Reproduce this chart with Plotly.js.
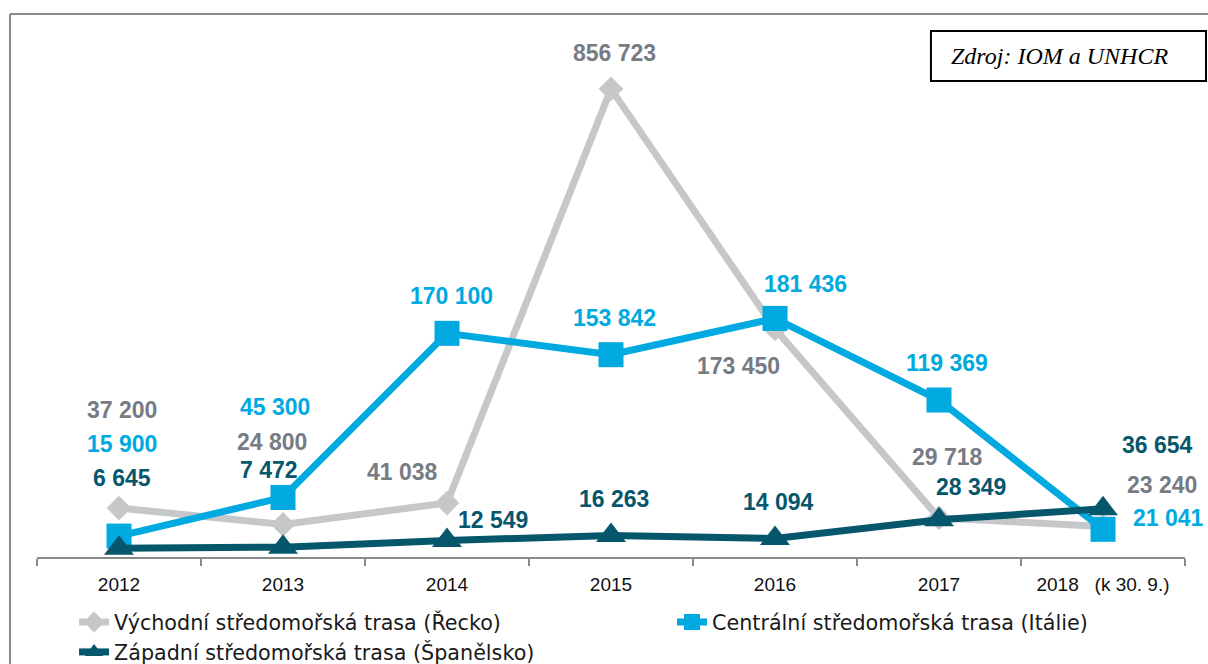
<!DOCTYPE html>
<html>
<head>
<meta charset="utf-8">
<script src="https://cdn.plot.ly/plotly-3.0.1.min.js"></script>
<style>
  html, body { margin: 0; padding: 0; background: #ffffff; }
  #chart { width: 1208px; height: 664px; }
</style>
</head>
<body>
<div id="chart"></div>
<script>
// ---- data ----
const roky = ['2012', '2013', '2014', '2015', '2016', '2017', '2018\u00a0\u00a0 (k 30. 9.)'];
const vychodni = [37200, 24800, 41038, 856723, 173450, 29718, 23240];   // Řecko
const centralni = [15900, 45300, 170100, 153842, 181436, 119369, 21041]; // Itálie
const zapadni = [6645, 7472, 12549, 16263, 14094, 28349, 36654];        // Španělsko
const nazvy = [
  'Východní středomořská trasa (Řecko)',
  'Centrální středomořská trasa (Itálie)',
  'Západní středomořská trasa (Španělsko)'
];
// the original chart breaks its value axis: values above this level are drawn at it
const zlomOsy = 356000;

// ---- styling / label placement (pixels) ----
const barvy = ['#c6c7c9', '#00a9e0', '#06566c'];
const barvyPopisku = ['#767b84', '#00a9e0', '#06566c'];
const symboly = ['diamond', 'square', 'triangle-up'];
const velikosti = [19, 25, 26];
const legendy = ['legend', 'legend2', 'legend'];
const posunX = [
  [3, -11, -45, 3, -37, 8, 59],
  [3, -8, 4, 3, 30, 8, 65],
  [3, -14, 46, 3, 3, 32, 54]
];
const posunY = [
  [98, 82, 31, 36, -37, 61, 41],
  [92, 90, 37, 37, 34, 37, 11],
  [70, 77, 21, 37, 36, 33, 64]
];

const serie = [vychodni, centralni, zapadni];
const fmt = v => String(v).replace(/\B(?=(\d{3})+(?!\d))/g, ' ');

const traces = serie.map((vals, i) => ({
  type: 'scatter',
  mode: 'lines+markers',
  name: nazvy[i],
  legend: legendy[i],
  legendgroup: 'g' + i,
  x: roky,
  y: vals.map(v => Math.min(v, zlomOsy)),
  line: { color: barvy[i], width: 7 },
  marker: { symbol: symboly[i], size: velikosti[i], color: barvy[i] },
  hoverinfo: 'skip',
  cliponaxis: false
}));

const annotations = [];
serie.forEach((vals, i) => {
  vals.forEach((v, j) => {
    annotations.push({
      x: j, y: Math.min(v, zlomOsy), xref: 'x', yref: 'y',
      text: '<b>' + fmt(v) + '</b>', showarrow: false,
      xanchor: 'center', yanchor: 'middle',
      xshift: posunX[i][j], yshift: posunY[i][j],
      font: { family: 'Liberation Sans, Arial, sans-serif', size: 23, color: barvyPopisku[i] }
    });
  });
});
annotations.push({
  xref: 'paper', yref: 'paper', x: 0.8911, y: 0.9525, xanchor: 'center', yanchor: 'middle',
  text: '<i>Zdroj: IOM a UNHCR</i>', showarrow: false,
  font: { family: 'Liberation Serif, Times New Roman, serif', size: 24, color: '#000000' }
});

const legendFont = { family: 'DejaVu Sans, Liberation Sans, sans-serif', size: 20.7, color: '#1a1a1a' };

const layout = {
  width: 1208, height: 664,
  margin: { l: 37, r: 23, t: 31, b: 107, autoexpand: false },
  paper_bgcolor: '#ffffff', plot_bgcolor: '#ffffff',
  showlegend: true,
  legend: {
    xref: 'container', yref: 'container', x: 0.0613, y: 0.0933, xanchor: 'left', yanchor: 'top',
    orientation: 'v', tracegroupgap: 4, traceorder: 'normal',
    font: legendFont, bgcolor: 'rgba(0,0,0,0)'
  },
  legend2: {
    xref: 'container', yref: 'container', x: 0.5563, y: 0.0933, xanchor: 'left', yanchor: 'top',
    orientation: 'v', font: legendFont, bgcolor: 'rgba(0,0,0,0)'
  },
  xaxis: {
    type: 'category', range: [-0.5, 6.5], fixedrange: true, automargin: false,
    showline: true, linecolor: '#8a8a8a', linewidth: 2,
    ticks: 'outside', tickson: 'boundaries', ticklen: 7, tickcolor: '#8a8a8a', tickwidth: 2,
    ticklabelstandoff: 9,
    tickangle: 0, showgrid: false, zeroline: false,
    tickfont: { family: 'Liberation Sans, Arial, sans-serif', size: 19, color: '#111111' }
  },
  yaxis: {
    range: [0, 400000], visible: false, showgrid: false, zeroline: false, fixedrange: true
  },
  annotations: annotations,
  shapes: [
    { type: 'line', xref: 'paper', yref: 'paper', x0: -0.0235, x1: 1.03, y0: 1.0323, y1: 1.0323,
      line: { color: '#8a8a8a', width: 2 } },
    { type: 'line', xref: 'paper', yref: 'paper', x0: -0.0235, x1: -0.0235, y0: 1.0323, y1: -0.21,
      line: { color: '#8a8a8a', width: 2 } },
    { type: 'rect', xref: 'paper', yref: 'paper', x0: 0.7787, x1: 1.0183, y0: 0.905, y1: 1.0,
      line: { color: '#000000', width: 2 }, fillcolor: '#ffffff', layer: 'below' }
  ]
};

Plotly.newPlot('chart', traces, layout, { displayModeBar: false, staticPlot: true });
</script>
</body>
</html>
